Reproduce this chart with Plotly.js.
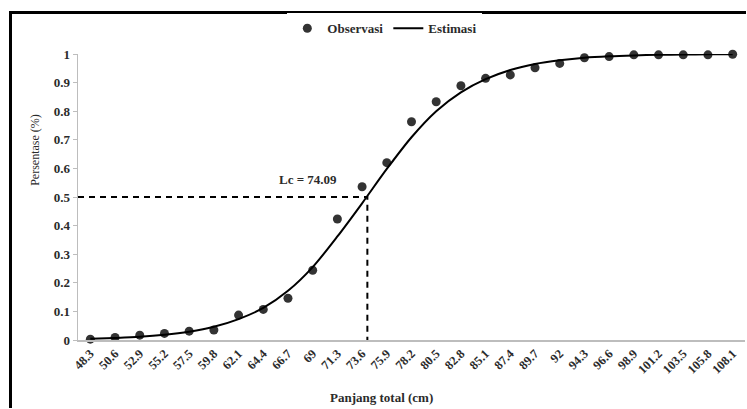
<!DOCTYPE html>
<html>
<head>
<meta charset="utf-8">
<script src="https://cdn.plot.ly/plotly-3.0.1.min.js"></script>
<style>
  html, body { margin: 0; padding: 0; background: #fff; overflow: hidden; }
  #chart { width: 747px; height: 409px; }
</style>
</head>
<body>
<div id="chart"></div>
<script>
// Panjang total (cm) categories
const lengths = [48.3, 50.6, 52.9, 55.2, 57.5, 59.8, 62.1, 64.4, 66.7, 69, 71.3, 73.6, 75.9,
                 78.2, 80.5, 82.8, 85.1, 87.4, 89.7, 92, 94.3, 96.6, 98.9, 101.2, 103.5, 105.8, 108.1];
const tickLabels = ["48.3","50.6","52.9","55.2","57.5","59.8","62.1","64.4","66.7","69","71.3","73.6","75.9",
                    "78.2","80.5","82.8","85.1","87.4","89.7","92","94.3","96.6","98.9","101.2","103.5","105.8","108.1"];
// Observasi
const observasi = [0.003, 0.009, 0.017, 0.023, 0.031, 0.035, 0.087, 0.107, 0.146, 0.244, 0.423, 0.536, 0.620,
                   0.763, 0.833, 0.889, 0.915, 0.927, 0.952, 0.967, 0.987, 0.991, 0.997, 0.997, 0.997, 0.997, 0.999];
// Estimasi curve
const estimasi = [0.004, 0.007, 0.011, 0.018, 0.029, 0.046, 0.073, 0.112, 0.172, 0.255, 0.362, 0.478, 0.598,
                  0.709, 0.800, 0.866, 0.912, 0.944, 0.965, 0.978, 0.987, 0.992, 0.995, 0.997, 0.998, 0.999, 0.999];
// Lc
const lc = 74.09;
const lcY = 0.5;
const lcLabel = "Lc = 74.09";
const xTitle = "Panjang total (cm)";
const yTitle = "Persentase (%)";

const serif = "Liberation Serif, Times New Roman, serif";
const ink = "#2b2b2b";

const traces = [
  {
    x: lengths, y: observasi, name: "Observasi", type: "scatter", mode: "markers",
    marker: { color: "#333333", size: 9 }, cliponaxis: false
  },
  {
    x: lengths, y: estimasi, name: "Estimasi", type: "scatter", mode: "lines",
    line: { color: "#000000", width: 2, shape: "spline", smoothing: 0.8 }, cliponaxis: false
  },
  {
    x: [lengths[0] - 1.15, lc, lc], y: [lcY, lcY, 0], type: "scatter", mode: "lines",
    line: { color: "#000000", width: 2, dash: "6px,5px" }, showlegend: false, hoverinfo: "skip", cliponaxis: false
  }
];

// outer frame (left and top edges), in paper coordinates of the 747x409 figure
const W = 747, H = 409, mL = 78, mR = 2, mT = 54, mB = 69;
const pw = W - mL - mR, ph = H - mT - mB;
const px2x = p => (p - mL) / pw;
const py2y = p => (H - mB - p) / ph;

const layout = {
  width: W, height: H,
  margin: { l: mL, r: mR, t: mT, b: mB },
  paper_bgcolor: "#ffffff", plot_bgcolor: "#ffffff",
  font: { family: serif, color: ink, size: 12 },
  showlegend: true,
  legend: {
    orientation: "h", x: 0.46, xanchor: "center", y: 1.09, yanchor: "middle",
    font: { family: serif, size: 13, color: ink, weight: "bold" }, traceorder: "normal",
    itemwidth: 30
  },
  xaxis: {
    type: "linear",
    range: [lengths[0] - 1.15, lengths[lengths.length - 1] + 1.15],
    tickmode: "array", tickvals: lengths, ticktext: tickLabels,
    tickangle: -45, ticks: "", showgrid: false, zeroline: false,
    showline: true, linecolor: "#bdbdbd", linewidth: 1.5,
    tickfont: { family: serif, size: 12.5, color: ink, weight: "bold" }
  },
  yaxis: {
    range: [0, 1], tickmode: "array",
    tickvals: [0, 0.1, 0.2, 0.3, 0.4, 0.5, 0.6, 0.7, 0.8, 0.9, 1],
    ticktext: ["0", "0.1", "0.2", "0.3", "0.4", "0.5", "0.6", "0.7", "0.8", "0.9", "1"],
    ticks: "outside", ticklen: 4, tickcolor: "#bdbdbd",
    showgrid: false, zeroline: false, showline: true, linecolor: "#bdbdbd", linewidth: 1.5,
    tickfont: { family: serif, size: 13, color: ink, weight: "bold" }
  },
  shapes: [
    { type: "rect", xref: "paper", yref: "paper", x0: px2x(9), x1: px2x(12), y0: py2y(11), y1: py2y(408),
      fillcolor: "#000", line: { width: 0 } },
    { type: "rect", xref: "paper", yref: "paper", x0: px2x(9), x1: px2x(746), y0: py2y(11), y1: py2y(14),
      fillcolor: "#000", line: { width: 0 } }
  ],
  annotations: [
    {
      x: lc, y: lcY, xref: "x", yref: "y", text: lcLabel, showarrow: false,
      xanchor: "right", yanchor: "bottom", xshift: -28, yshift: 8,
      font: { family: serif, size: 13, color: ink, weight: "bold" }
    },
    {
      x: px2x(381), y: 0, xref: "paper", yref: "paper", text: xTitle, showarrow: false,
      xanchor: "center", yanchor: "middle", yshift: -57,
      font: { family: serif, size: 13, color: ink, weight: "bold" }
    },
    {
      x: 0, y: 0.665, xref: "paper", yref: "paper", text: yTitle, showarrow: false, textangle: -90,
      xanchor: "center", yanchor: "middle", xshift: -43,
      font: { family: serif, size: 12, color: ink }
    }
  ]
};

Plotly.newPlot("chart", traces, layout, { displayModeBar: false, staticPlot: true });
</script>
</body>
</html>
